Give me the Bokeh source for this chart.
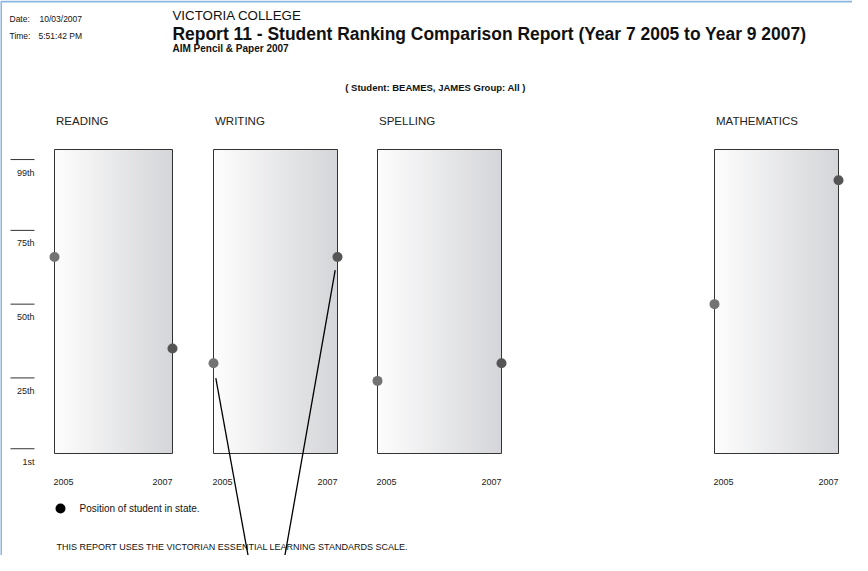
import numpy as np
from bokeh.plotting import figure
from bokeh.models import Range1d
from bokeh.core.properties import value
from bokeh.embed import file_html
from bokeh.resources import INLINE

# ---------------- data ----------------
subjects = ["READING", "WRITING", "SPELLING", "MATHEMATICS"]
years = ["2005", "2007"]
rank_2005 = [66, 30, 24, 50]
rank_2007 = [35, 66, 30, 92]
scale_values = [1, 25, 50, 75, 99]
scale_labels = ["1st", "25th", "50th", "75th", "99th"]

# ---------------- layout (page pixels) ----------------
W, H = 852, 555
PX_PER_PCT = 2.951
ZERO_PAGE_Y = 459.2
panel_left = [62, 221, 385, 722]
panel_right = [180, 345, 509, 846]
PANEL_TOP_Y, PANEL_BOTTOM_Y = 157, 461
FONT = value("Liberation Sans")
INK = "#111111"


def py(page_y):
    return (ZERO_PAGE_Y - page_y) / PX_PER_PCT


p = figure(width=W, height=H, x_range=Range1d(8, 8 + W),
           y_range=Range1d(py(8 + H), py(8)),
           output_backend="svg", toolbar_location=None,
           x_axis_location=None, y_axis_location=None, min_border=0)
p.grid.visible = False
p.outline_line_color = None
p.background_fill_color = "white"
p.border_fill_color = "white"

# frame lines of the report page
p.segment(x0=[8.5, 8], x1=[8.5, 8 + W], y0=[py(9), py(9)], y1=[py(8 + H), py(9)],
          line_color="#8ab6e2", line_width=2)


def txt(x, y, t, size, bold=False, align="left", color=INK):
    p.text(x=[x], y=[py(y)], text=[t], text_font=FONT, text_font_size=size,
           text_font_style="bold" if bold else "normal", text_align=align,
           text_baseline="middle", text_color=color)


# header texts
txt(17, 26, "Date:", "8.5px")
txt(47, 26, "10/03/2007", "8.5px")
txt(17, 43, "Time:", "8.5px")
txt(46, 43, "5:51:42 PM", "8.5px")
txt(180, 23, "VICTORIA COLLEGE", "13.3px")
txt(180, 41, "Report 11 - Student Ranking Comparison Report (Year 7 2005 to Year 9 2007)",
    "17.45px", bold=True)
txt(180, 56, "AIM Pencil & Paper 2007", "10px", bold=True)
txt(443, 95, "( Student: BEAMES, JAMES Group: All )", "9.5px", bold=True, align="center")

# subject labels
p.text(x=[l + 1.5 for l in panel_left], y=[py(128)] * 4, text=subjects,
       text_font=FONT, text_font_size="11.5px", text_baseline="middle",
       text_align="left", text_color="#222222")

# gradient panels
n = 96
t = np.linspace(0, 1, n)
c_left = np.array([253, 253, 253])
c_right = np.array([213, 214, 217])
img = np.empty((1, n), dtype=np.uint32)
view = img.view(dtype=np.uint8).reshape((1, n, 4))
for c in range(3):
    view[0, :, c] = np.round(c_left[c] + (c_right[c] - c_left[c]) * t).astype(np.uint8)
view[0, :, 3] = 255
top, bottom = py(PANEL_TOP_Y), py(PANEL_BOTTOM_Y)
p.image_rgba(image=[img] * 4, x=panel_left, y=[bottom] * 4,
             dw=[r - l for l, r in zip(panel_left, panel_right)], dh=[top - bottom] * 4)
p.quad(left=panel_left, right=panel_right, top=[top] * 4, bottom=[bottom] * 4,
       fill_color=None, line_color="#333333", line_width=1)

# percentile scale
p.segment(x0=[18] * 5, x1=[42] * 5, y0=scale_values, y1=scale_values,
          line_color="#333333", line_width=1)
p.text(x=[42] * 5, y=[v - 13 / PX_PER_PCT for v in scale_values], text=scale_labels,
       text_font=FONT, text_font_size="9px", text_align="right",
       text_baseline="middle", text_color="#222222")

# year labels
p.text(x=[l - 1 for l in panel_left], y=[py(489)] * 4, text=[years[0]] * 4,
       text_font=FONT, text_font_size="9px", text_align="left",
       text_baseline="middle", text_color="#222222")
p.text(x=panel_right, y=[py(489)] * 4, text=[years[1]] * 4,
       text_font=FONT, text_font_size="9px", text_align="right",
       text_baseline="middle", text_color="#222222")

# student positions
p.scatter(x=panel_left, y=rank_2005, size=10, fill_color="#737373", line_color=None)
p.scatter(x=panel_right, y=rank_2007, size=10, fill_color="#555555", line_color=None)

# annotation lines pointing at the writing dots
w = subjects.index("WRITING")
p.segment(x0=[panel_left[w] + 2.3, panel_right[w] - 2.3],
          y0=[rank_2005[w] - 15 / PX_PER_PCT, rank_2007[w] - 13.3 / PX_PER_PCT],
          x1=[257, 291], y1=[py(571), py(571)],
          line_color="black", line_width=1.3)

# legend
p.scatter(x=[68], y=[py(516)], size=10, fill_color="black", line_color=None)
txt(87, 516, "Position of student in state.", "10px")
txt(64, 554, "THIS REPORT USES THE VICTORIAN ESSENTIAL LEARNING STANDARDS SCALE.", "9px")

open("out.html", "w").write(file_html(p, INLINE))
